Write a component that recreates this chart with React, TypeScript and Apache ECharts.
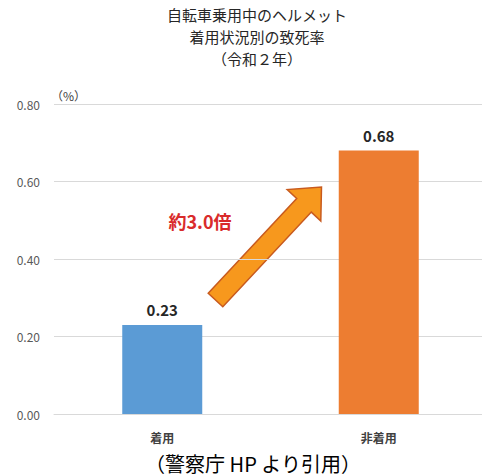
import React, { useEffect, useRef } from "react";
import * as echarts from "echarts";

const categories = ["着用", "非着用"];
const values = [0.23, 0.68];
const barColors = ["#5B9BD5", "#ED7D31"];
const yTicks = { min: 0, max: 0.8, interval: 0.2 };
const titleLines = ["自転車乗用中のヘルメット", "着用状況別の致死率", "（令和２年）"];
const ratioText = "約3.0倍";
const footerText = "（警察庁 HP より引用）";
const unitText = "（%）";

const FONT = "'Noto Sans CJK JP', 'Noto Sans', sans-serif";

export default function App() {
  const ref = useRef<HTMLDivElement>(null);
  useEffect(() => {
    document.body.style.margin = "0";
    document.body.style.overflow = "hidden";
    if (!ref.current) return;
    const chart = echarts.init(ref.current, undefined, { renderer: "svg" });
    chart.setOption({
      animation: false,
      backgroundColor: "#ffffff",
      textStyle: { fontFamily: FONT },
      grid: { left: 54, right: 5, top: 104, bottom: 62 },
      xAxis: {
        type: "category",
        data: categories,
        axisLine: { lineStyle: { color: "#D9D9D9" } },
        axisTick: { show: false },
        axisLabel: { color: "#404040", fontSize: 12, fontWeight: "bold", margin: 17, fontFamily: FONT },
      },
      yAxis: {
        type: "value",
        min: yTicks.min,
        max: yTicks.max,
        interval: yTicks.interval,
        axisLine: { show: false },
        axisTick: { show: false },
        splitLine: { lineStyle: { color: "#D9D9D9" } },
        axisLabel: {
          color: "#595959",
          fontSize: 12,
          margin: 14,
          fontFamily: FONT,
          formatter: (v: number) => v.toFixed(2),
        },
      },
      series: [
        {
          type: "bar",
          data: values.map((v, i) => ({ value: v, itemStyle: { color: barColors[i] } })),
          barWidth: 80,
          label: {
            show: true,
            position: "top",
            distance: 8,
            color: "#262626",
            fontSize: 15,
            fontWeight: "bold",
            fontFamily: FONT,
            formatter: (p: any) => p.value.toFixed(2),
          },
        },
      ],
      graphic: [
        ...titleLines.map((t, i) => ({
          type: "text",
          style: {
            text: t,
            x: 257,
            y: 14.7 + i * 21.8,
            fill: "#262626",
            fontSize: 15,
            fontFamily: FONT,
            align: "center",
            verticalAlign: "middle",
          },
        })),
        {
          type: "text",
          style: {
            text: unitText,
            x: 51,
            y: 89,
            fill: "#404040",
            fontSize: 12,
            fontFamily: FONT,
          },
        },
        {
          type: "polygon",
          shape: {
            points: [
              [208.2, 293.2],
              [296.7, 198.5],
              [287.2, 189.6],
              [321.5, 187],
              [320.8, 221],
              [311.3, 212.1],
              [222.8, 306.8],
            ],
          },
          style: { fill: "#F7981D", stroke: "#C85A1E", lineWidth: 1.5 },
        },
        {
          type: "text",
          style: {
            text: ratioText,
            x: 200,
            y: 221,
            align: "center",
            verticalAlign: "middle",
            fill: "#D92B2B",
            fontSize: 18,
            fontWeight: "bold",
            fontFamily: FONT,
          },
        },
        {
          type: "text",
          style: {
            text: footerText,
            x: 253,
            y: 463,
            align: "center",
            verticalAlign: "middle",
            fill: "#000000",
            fontSize: 20,
            fontFamily: FONT,
          },
        },
      ],
    });
    return () => chart.dispose();
  }, []);
  return (
    <div style={{ width: 482, height: 476, overflow: "hidden" }}>
      <div ref={ref} style={{ width: 492, height: 476 }} />
    </div>
  );
}
